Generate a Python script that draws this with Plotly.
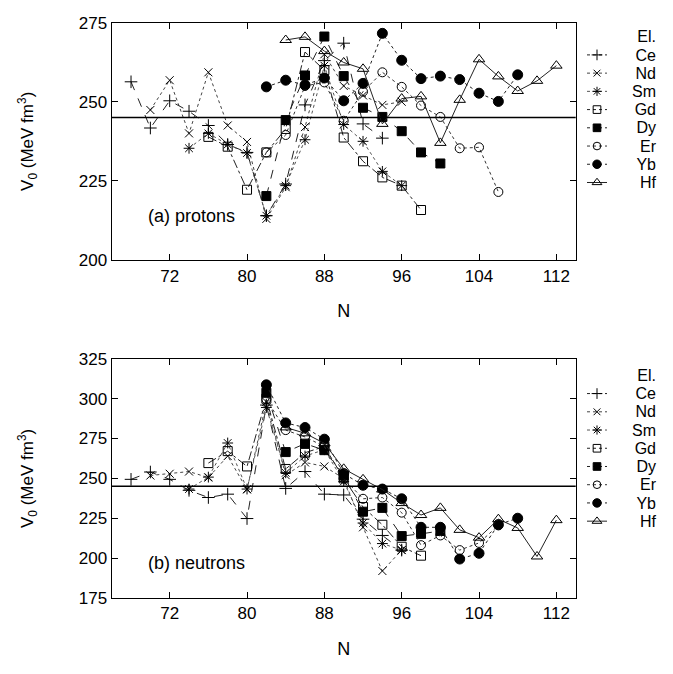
import plotly.graph_objects as go

# Neutron numbers and fitted potential depths V0 (MeV fm^3) per element
elements = ["Ce", "Nd", "Sm", "Gd", "Dy", "Er", "Yb", "Hf"]

# (a) protons
p_N = {
    "Ce": [68, 70, 72, 74, 76, 78, 80, 82, 84, 86, 88, 90, 92, 94],
    "Nd": [70, 72, 74, 76, 78, 80, 82, 84, 86, 88, 90, 92, 94, 96],
    "Sm": [74, 76, 78, 80, 82, 84, 86, 88, 90, 92, 94, 96],
    "Gd": [76, 78, 80, 82, 84, 86, 88, 90, 92, 94, 96, 98],
    "Dy": [82, 84, 86, 88, 90, 92, 94, 96, 98, 100],
    "Er": [82, 84, 86, 88, 90, 92, 94, 96, 98, 100, 102, 104, 106],
    "Yb": [82, 84, 86, 88, 90, 92, 94, 96, 98, 100, 102, 104, 106, 108],
    "Hf": [84, 86, 88, 90, 92, 94, 96, 98, 100, 102, 104, 106, 108, 110, 112],
}
p_V = {
    "Ce": [256.3, 241.7, 250.3, 247.0, 242.5, 236.5, 234.0, 214.0, 224.0, 249.0, 263.0, 268.5, 243.0, 238.5],
    "Nd": [247.4, 256.8, 240.0, 259.3, 242.5, 237.3, 213.0, 223.0, 242.0, 265.0, 255.0, 252.0, 249.0, 250.0],
    "Sm": [235.3, 240.0, 236.5, 233.8, 214.0, 223.5, 238.0, 261.4, 242.8, 237.5, 228.0, 223.5],
    "Gd": [238.9, 235.8, 222.2, 234.0, 241.4, 265.7, 260.0, 238.7, 231.2, 226.1, 223.5, 215.8],
    "Dy": [220.2, 244.2, 258.3, 270.6, 258.1, 248.1, 245.2, 240.7, 234.0, 230.5],
    "Er": [234.0, 239.5, 255.0, 256.1, 244.0, 253.2, 259.3, 254.7, 248.8, 245.2, 235.3, 235.6, 221.5],
    "Yb": [254.7, 256.8, 255.3, 257.5, 250.3, 255.8, 271.6, 263.1, 257.3, 258.1, 257.0, 252.7, 250.1, 258.5],
    "Hf": [269.5, 270.5, 266.0, 262.4, 260.4, 243.0, 251.0, 251.7, 237.0, 250.6, 263.4, 258.0, 253.4, 256.6, 261.4],
}

# (b) neutrons
n_N = {
    "Ce": [68, 70, 72, 74, 76, 78, 80, 82, 84, 86, 88, 90, 92, 94, 96],
    "Nd": [70, 72, 74, 76, 78, 80, 82, 84, 86, 88, 90, 92, 94, 96],
    "Sm": [74, 76, 78, 80, 82, 84, 86, 88, 90, 92, 94, 96],
    "Gd": [76, 78, 80, 82, 84, 86, 88, 90, 92, 94, 96, 98],
    "Dy": [82, 84, 86, 88, 90, 92, 94, 96, 98, 100],
    "Er": [82, 84, 86, 88, 90, 92, 94, 96, 98, 100, 102, 104, 106],
    "Yb": [82, 84, 86, 88, 90, 92, 94, 96, 98, 100, 102, 104, 106, 108],
    "Hf": [84, 86, 88, 90, 92, 94, 96, 98, 100, 102, 104, 106, 108, 110, 112],
}
n_V = {
    "Ce": [249.4, 254.0, 249.4, 242.5, 238.0, 240.1, 224.8, 296.0, 243.7, 254.3, 240.1, 239.6, 224.4, 214.2, 205.0],
    "Nd": [251.8, 252.9, 254.3, 250.5, 264.0, 243.0, 298.0, 252.0, 260.0, 257.5, 250.0, 219.3, 191.9, 205.0],
    "Sm": [243.3, 250.8, 272.2, 243.3, 294.5, 253.5, 264.0, 268.0, 248.0, 222.0, 209.1, 205.0],
    "Gd": [259.6, 267.1, 257.5, 300.0, 255.9, 266.1, 270.0, 250.0, 232.0, 220.9, 207.1, 201.5],
    "Dy": [303.7, 266.5, 271.8, 267.7, 251.8, 229.1, 231.5, 213.8, 215.2, 217.0],
    "Er": [299.6, 280.3, 276.0, 270.0, 250.0, 237.2, 238.0, 228.5, 208.1, 214.2, 205.0, 209.5, 220.5],
    "Yb": [308.7, 284.8, 281.9, 274.6, 253.0, 245.7, 243.3, 237.2, 219.3, 219.3, 199.4, 203.0, 221.0, 225.0],
    "Hf": [282.0, 278.3, 272.0, 256.0, 249.4, 243.0, 234.5, 227.0, 231.5, 217.7, 212.8, 224.4, 218.9, 201.0, 223.8],
}

x_ticks = [72, 80, 88, 96, 104, 112]
p_yticks = [200, 225, 250, 275]
n_yticks = [175, 200, 225, 250, 275, 300, 325]
reference_V0 = 245
key_header = "El."

# gnuplot-like point and line styles
style = {
    "Ce": dict(symbol="cross-thin-open", size=9, dash="dash", color="#222"),
    "Nd": dict(symbol="x-thin-open", size=8, dash="dot", color="#444"),
    "Sm": dict(symbol="asterisk-open", size=9, dash="dot", color="#555"),
    "Gd": dict(symbol="square-open", size=9, dash="dashdot", color="#222"),
    "Dy": dict(symbol="square", size=9, dash="dash", color="#222"),
    "Er": dict(symbol="circle-open", size=9, dash="dot", color="#333"),
    "Yb": dict(symbol="circle", size=10, dash="dot", color="#222"),
    "Hf": dict(symbol="triangle-up-open", size=10, dash="solid", color="#222"),
}

FONT = "Liberation Sans, Arial, Helvetica, sans-serif"
W, H = 673, 674
fig = go.Figure()


def marker_of(el, scale=1.0):
    s = style[el]
    return dict(symbol=s["symbol"], size=s["size"] * scale, color="black",
                line=dict(color="black", width=1))


panels = [
    (p_N, p_V, "x", "y", "x3", "y3"),
    (n_N, n_V, "x2", "y2", "x4", "y4"),
]
for Ns, Vs, xa, ya, kx, ky in panels:
    for el in elements:
        s = style[el]
        fig.add_trace(go.Scatter(
            x=Ns[el], y=Vs[el], name=el, mode="lines+markers",
            xaxis=xa, yaxis=ya, showlegend=False,
            line=dict(color=s["color"], width=1, dash=s["dash"]),
            marker=marker_of(el),
        ))
    # key: one row per element on its own small axes
    for row, el in enumerate(elements, start=1):
        s = style[el]
        fig.add_trace(go.Scatter(
            x=[0, 1], y=[row, row], mode="lines", xaxis=kx, yaxis=ky,
            showlegend=False, hoverinfo="skip",
            line=dict(color=s["color"], width=1, dash="dot" if s["dash"] != "solid" else "solid"),
        ))
        fig.add_trace(go.Scatter(
            x=[0.5], y=[row], mode="markers", xaxis=kx, yaxis=ky,
            showlegend=False, name=el, marker=marker_of(el, 0.85),
        ))

axis_common = dict(
    showline=True, linecolor="black", linewidth=1.2, mirror="ticks",
    ticks="inside", ticklen=6, tickwidth=1, tickcolor="black",
    showgrid=False, zeroline=False,
    tickfont=dict(family=FONT, size=17, color="black"),
)
key_x = dict(domain=[587 / W, 607 / W], range=[0, 1], visible=False)


def key_y(top_px):
    # rows 0..8 spaced 18.75 px, header row at top_px
    y0 = top_px - 9.4
    y1 = top_px + 8 * 18.75 + 9.4
    return dict(domain=[(H - y1) / H, (H - y0) / H], range=[8.5, -0.5],
                anchor="free", position=656 / W, side="left",
                tickvals=list(range(9)), ticktext=[key_header] + elements,
                ticks="", showline=False, showgrid=False, zeroline=False,
                tickfont=dict(family=FONT, size=16, color="black"))


ytitle = dict(text="V<sub>0</sub> (MeV fm<sup>3</sup>)", font=dict(size=17), standoff=40)
xtitle = dict(text="N", font=dict(size=18), standoff=19)
xd = [111.7 / W, 575.7 / W]
fig.update_layout(
    width=W, height=H, autosize=False,
    margin=dict(l=0, r=0, t=0, b=0),
    paper_bgcolor="white", plot_bgcolor="white",
    font=dict(family=FONT, color="black"),
    showlegend=False,
    xaxis=dict(domain=xd, range=[66, 114], tickvals=x_ticks, anchor="y",
               title=xtitle, **axis_common),
    yaxis=dict(domain=[(H - 258.3) / H, (H - 14) / H], range=[200, 275],
               tickvals=p_yticks, anchor="x", title=ytitle, **axis_common),
    xaxis2=dict(domain=xd, range=[66, 114], tickvals=x_ticks, anchor="y2",
                title=xtitle, **axis_common),
    yaxis2=dict(domain=[(H - 606) / H, (H - 360) / H], range=[175, 325],
                tickvals=n_yticks, anchor="x2", title=ytitle, **axis_common),
    xaxis3=dict(anchor="y3", **key_x),
    yaxis3=key_y(28.5),
    xaxis4=dict(anchor="y4", **key_x),
    yaxis4=key_y(377),
)

# reference depth
for xa, ya in [("x", "y"), ("x2", "y2")]:
    fig.add_shape(type="line", xref=f"{xa} domain", yref=ya, x0=0, x1=1,
                  y0=reference_V0, y1=reference_V0, line=dict(color="black", width=1.5))

# panel labels
fig.add_annotation(text="(a) protons", xref="x", yref="y", x=69.5, y=214,
                   xanchor="left", showarrow=False, font=dict(size=18))
fig.add_annotation(text="(b) neutrons", xref="x2", yref="y2", x=69.5, y=197,
                   xanchor="left", showarrow=False, font=dict(size=18))

fig.write_html("out.html")
